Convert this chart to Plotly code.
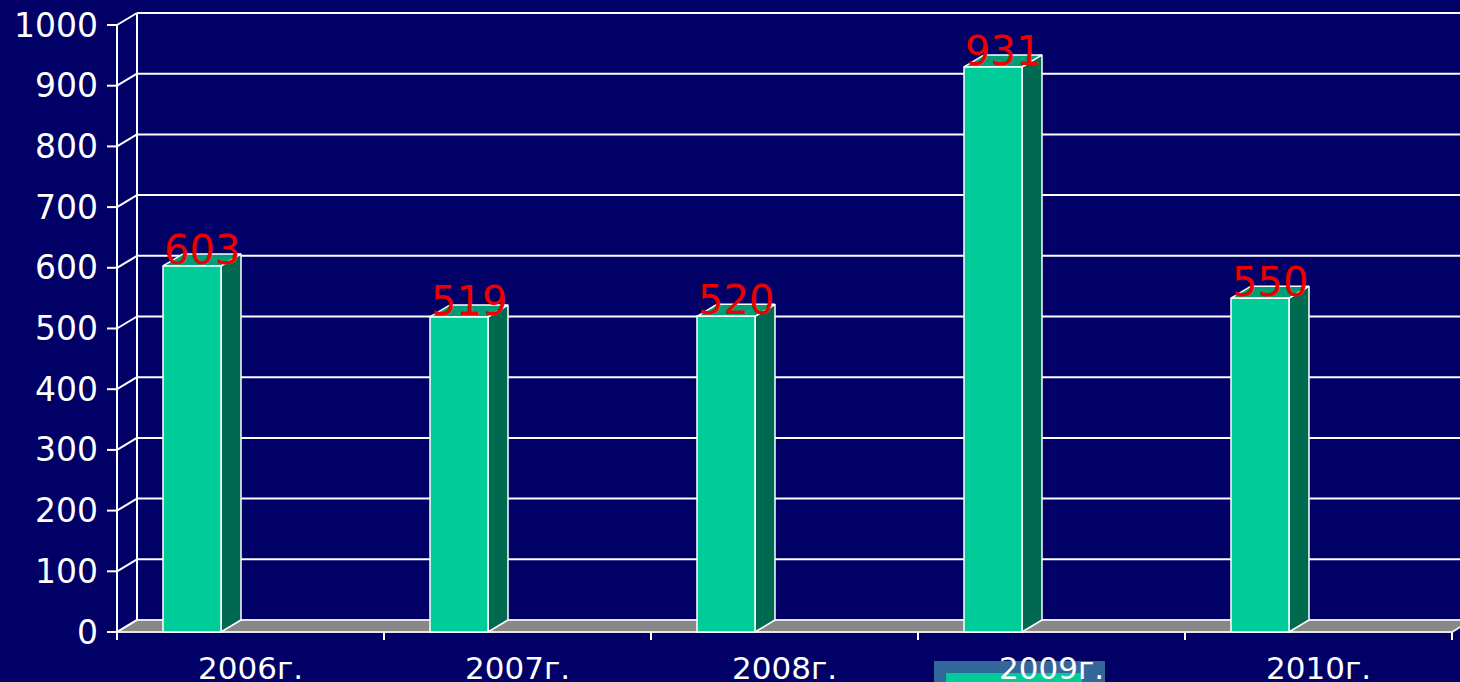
import plotly.graph_objects as go

# ---- data ----
categories = ["2006г.", "2007г.", "2008г.", "2009г.", "2010г."]
values = [603, 519, 520, 931, 550]
y_ticks = [0, 100, 200, 300, 400, 500, 600, 700, 800, 900, 1000]
y_tick_labels = [str(v) for v in y_ticks]

# ---- styling / geometry (pixels converted to axis units) ----
W, H = 1460, 682
ML, MT, MB = 105, 0, 40
PXX = 267.0          # px per category unit
PXY = 0.607          # px per y unit
X0PX = 117           # pixel of x=0
Y0PX = 632           # pixel of y=0
DX = 20 / PXX        # depth offset x
DY = 12 / PXY        # depth offset y
BAR_OFF = 46 / PXX
BAR_W = 58 / PXX
TICK_X = 10 / PXX
TICK_Y = 8 / PXY

x_min = -(X0PX - ML) / PXX
x_max = (W - X0PX) / PXX
y_max = (Y0PX - MT) / PXY
y_min = -(H - MB - Y0PX) / PXY

BG = "#000066"
FRONT = "#00CC99"
TOP = "#009E78"
SIDE = "#006A50"
FLOOR = "#888888"
WHITE = "white"
RED = "#EE0000"
n = len(categories)

fig = go.Figure()

def poly(xs, ys, fill, lw=1.5, color=WHITE):
    fig.add_trace(go.Scatter(x=xs + [xs[0]], y=ys + [ys[0]], mode="lines",
                             fill="toself", fillcolor=fill,
                             line=dict(color=color, width=lw),
                             hoverinfo="skip", showlegend=False))

def seg(xs, ys, lw=2):
    fig.add_trace(go.Scatter(x=xs, y=ys, mode="lines",
                             line=dict(color=WHITE, width=lw),
                             hoverinfo="skip", showlegend=False))

# floor
poly([0, n, n + DX, DX], [0, 0, DY, DY], FLOOR, lw=2, color="#E6E6E6")

# back wall grid lines, diagonals, tick marks
gx, gy = [], []
for v in y_ticks:
    if v > 0:
        gx += [DX, x_max + 1, None]
        gy += [v + DY, v + DY, None]
    gx += [0, DX, None, -TICK_X, 0, None]
    gy += [v, v + DY, None, v, v, None]
gx += [DX, DX, None, 0, 0, None]
gy += [DY, y_ticks[-1] + DY, None, 0, y_ticks[-1], None]
for i in range(n + 1):
    gx += [i, i, None]
    gy += [0, -TICK_Y, None]
seg(gx, gy, 2)

# bars
for i, v in enumerate(values):
    x0 = i + BAR_OFF
    x1 = x0 + BAR_W
    poly([x1, x1 + DX, x1 + DX, x1], [0, DY, v + DY, v], SIDE)
    poly([x0, x1, x1 + DX, x0 + DX], [v, v, v + DY, v + DY], TOP)
    poly([x0, x1, x1, x0], [0, 0, v, v], FRONT)
    fig.add_annotation(x=x0 + (BAR_W + DX) / 2, y=v + DY, text=str(v),
                       showarrow=False, xanchor="center", yanchor="middle",
                       yshift=4,
                       font=dict(family="DejaVu Sans", size=40, color=RED))

# legend remnant (partially visible below the chart)
def px2paper_x(p):
    return (p - ML) / (W - ML)

def px2paper_y(p):
    return (H - MB - p) / (H - MB - MT)

fig.add_shape(type="rect", xref="paper", yref="paper", layer="below",
              x0=px2paper_x(934), x1=px2paper_x(1105),
              y0=px2paper_y(661), y1=px2paper_y(690),
              fillcolor="#336699", line=dict(width=0))
fig.add_shape(type="rect", xref="paper", yref="paper", layer="below",
              x0=px2paper_x(946), x1=px2paper_x(1082),
              y0=px2paper_y(673), y1=px2paper_y(690),
              fillcolor=FRONT, line=dict(width=0))

fig.update_layout(
    width=W, height=H, autosize=False,
    margin=dict(l=ML, r=0, t=MT, b=MB, pad=0, autoexpand=False),
    paper_bgcolor=BG, plot_bgcolor=BG,
    showlegend=False,
    xaxis=dict(range=[x_min, x_max], showgrid=False, zeroline=False,
               showline=False, ticks="", automargin=False,
               tickmode="array", tickvals=[i + 0.5 for i in range(n)],
               ticktext=categories, ticklabelstandoff=5,
               tickfont=dict(family="DejaVu Sans", size=31, color=WHITE)),
    yaxis=dict(range=[y_min, y_max], showgrid=False, zeroline=False,
               showline=False, ticks="", automargin=False,
               tickmode="array", tickvals=y_ticks, ticktext=y_tick_labels,
               ticklabelstandoff=6,
               tickfont=dict(family="DejaVu Sans", size=33, color=WHITE)),
)

fig.write_html(
    "out.html",
    config={"displayModeBar": False, "responsive": False},
    post_script=(
        "document.documentElement.style.margin='0';"
        "document.documentElement.style.overflow='hidden';"
        "document.body.style.margin='0';"
        "document.body.style.overflow='hidden';"
    ),
)
